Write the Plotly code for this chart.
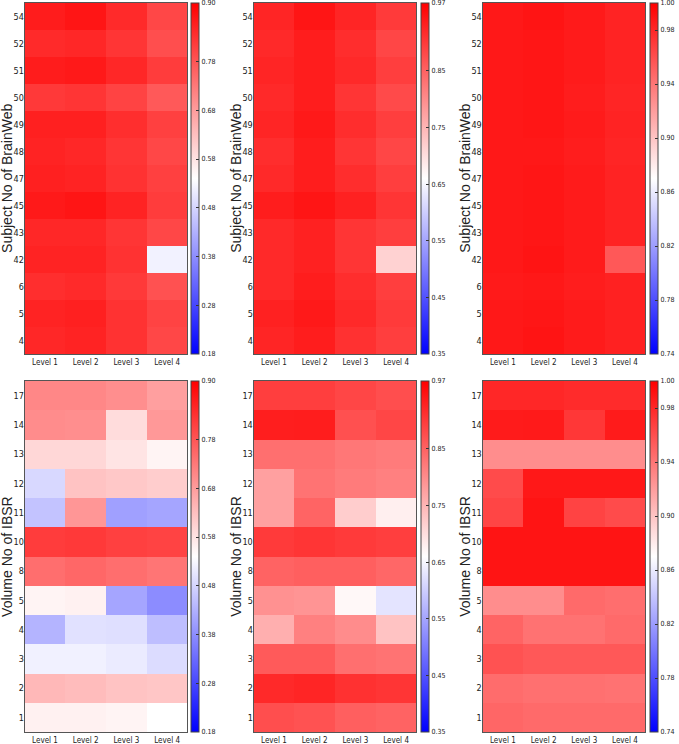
import plotly.graph_objects as go

levels = ["Level 1", "Level 2", "Level 3", "Level 4"]
brainweb_subjects = ["4", "5", "6", "42", "43", "45", "47", "48", "49", "50", "51", "52", "54"]
ibsr_volumes = ["1", "2", "3", "4", "5", "8", "10", "11", "12", "13", "14", "17"]

# BrainWeb, metric A (rows bottom->top follow brainweb_subjects)
bw_a = [
    [0.845, 0.850, 0.830, 0.800],
    [0.850, 0.855, 0.830, 0.805],
    [0.835, 0.840, 0.820, 0.785],
    [0.850, 0.850, 0.830, 0.522],
    [0.845, 0.845, 0.825, 0.800],
    [0.865, 0.870, 0.850, 0.815],
    [0.855, 0.850, 0.830, 0.810],
    [0.850, 0.845, 0.825, 0.800],
    [0.855, 0.855, 0.835, 0.810],
    [0.820, 0.825, 0.805, 0.775],
    [0.860, 0.865, 0.845, 0.815],
    [0.840, 0.845, 0.825, 0.790],
    [0.860, 0.870, 0.840, 0.800],
]
# BrainWeb, metric B
bw_b = [
    [0.925, 0.935, 0.910, 0.895],
    [0.930, 0.940, 0.920, 0.900],
    [0.920, 0.935, 0.915, 0.895],
    [0.920, 0.930, 0.905, 0.715],
    [0.920, 0.930, 0.905, 0.895],
    [0.935, 0.945, 0.930, 0.905],
    [0.920, 0.935, 0.915, 0.895],
    [0.915, 0.935, 0.905, 0.885],
    [0.925, 0.940, 0.915, 0.895],
    [0.920, 0.935, 0.905, 0.880],
    [0.925, 0.935, 0.920, 0.895],
    [0.920, 0.935, 0.915, 0.885],
    [0.925, 0.945, 0.925, 0.900],
]
# BrainWeb, metric C
bw_c = [
    [0.988, 0.990, 0.986, 0.983],
    [0.988, 0.989, 0.986, 0.983],
    [0.987, 0.988, 0.985, 0.983],
    [0.988, 0.990, 0.986, 0.955],
    [0.988, 0.989, 0.986, 0.982],
    [0.988, 0.989, 0.986, 0.982],
    [0.988, 0.989, 0.986, 0.982],
    [0.988, 0.988, 0.985, 0.981],
    [0.988, 0.989, 0.986, 0.982],
    [0.988, 0.989, 0.985, 0.981],
    [0.988, 0.989, 0.986, 0.982],
    [0.988, 0.989, 0.986, 0.982],
    [0.988, 0.990, 0.987, 0.982],
]
# IBSR, metric A (rows bottom->top follow ibsr_volumes)
ib_a = [
    [0.560, 0.560, 0.555, 0.540],
    [0.640, 0.635, 0.625, 0.620],
    [0.520, 0.520, 0.512, 0.490],
    [0.434, 0.498, 0.495, 0.448],
    [0.555, 0.560, 0.413, 0.378],
    [0.745, 0.755, 0.745, 0.735],
    [0.815, 0.820, 0.810, 0.805],
    [0.455, 0.688, 0.406, 0.413],
    [0.485, 0.625, 0.618, 0.610],
    [0.596, 0.596, 0.578, 0.555],
    [0.702, 0.700, 0.590, 0.685],
    [0.710, 0.710, 0.700, 0.675],
]
# IBSR, metric B
ib_b = [
    [0.875, 0.870, 0.855, 0.850],
    [0.920, 0.925, 0.910, 0.905],
    [0.860, 0.860, 0.835, 0.830],
    [0.757, 0.815, 0.800, 0.733],
    [0.794, 0.790, 0.669, 0.627],
    [0.850, 0.855, 0.855, 0.845],
    [0.900, 0.905, 0.900, 0.895],
    [0.775, 0.848, 0.721, 0.679],
    [0.775, 0.830, 0.820, 0.815],
    [0.835, 0.835, 0.825, 0.820],
    [0.934, 0.935, 0.873, 0.885],
    [0.895, 0.895, 0.885, 0.875],
]
# IBSR, metric C
ib_c = [
    [0.948, 0.946, 0.946, 0.946],
    [0.945, 0.943, 0.943, 0.942],
    [0.958, 0.955, 0.955, 0.955],
    [0.949, 0.942, 0.942, 0.946],
    [0.928, 0.928, 0.946, 0.944],
    [0.990, 0.990, 0.990, 0.990],
    [0.990, 0.990, 0.990, 0.990],
    [0.965, 0.990, 0.966, 0.962],
    [0.962, 0.988, 0.988, 0.988],
    [0.928, 0.928, 0.928, 0.928],
    [0.986, 0.987, 0.972, 0.986],
    [0.980, 0.980, 0.978, 0.978],
]

ticks_a = [0.18, 0.28, 0.38, 0.48, 0.58, 0.68, 0.78, 0.90]
ticks_b = [0.35, 0.45, 0.55, 0.65, 0.75, 0.85, 0.97]
ticks_c = [0.74, 0.78, 0.82, 0.86, 0.90, 0.94, 0.98, 1.00]

W, H = 679, 744
colorscale = [[0.0, "rgb(0,0,255)"], [0.5, "rgb(255,255,255)"], [1.0, "rgb(255,0,0)"]]

# (plot left, plot right, colorbar left, y-title centre) in pixels
col_px = [(25, 190, 194, 6.5), (257, 422, 427, 238.5), (489, 654, 659, 470.5)]
row_px = [(3, 354), (381, 732)]

panels = [
    (0, 0, bw_a, brainweb_subjects, ticks_a, "Subject No of BrainWeb"),
    (0, 1, bw_b, brainweb_subjects, ticks_b, "Subject No of BrainWeb"),
    (0, 2, bw_c, brainweb_subjects, ticks_c, "Subject No of BrainWeb"),
    (1, 0, ib_a, ibsr_volumes, ticks_a, "Volume No of IBSR"),
    (1, 1, ib_b, ibsr_volumes, ticks_b, "Volume No of IBSR"),
    (1, 2, ib_c, ibsr_volumes, ticks_c, "Volume No of IBSR"),
]

narrow = "Liberation Sans Narrow, DejaVu Sans Condensed, Arial Narrow, sans-serif"
fig = go.Figure()
layout = {}
annotations = []
for i, (r, c, z, ylab, tv, ytitle) in enumerate(panels):
    n = i + 1
    x0, x1, cbx, tx = col_px[c]
    top, bot = row_px[r]
    xd = [x0 / W, x1 / W]
    yd = [1 - bot / H, 1 - top / H]
    xa = "x" if n == 1 else f"x{n}"
    ya = "y" if n == 1 else f"y{n}"
    fig.add_trace(go.Heatmap(
        z=z, x=levels, y=ylab, xaxis=xa, yaxis=ya,
        colorscale=colorscale, zmin=tv[0], zmax=tv[-1],
        colorbar=dict(
            x=cbx / W, xanchor="left", xpad=0, ypad=0,
            y=(yd[0] + yd[1]) / 2, yanchor="middle",
            len=(bot - top) / H, lenmode="fraction",
            thickness=8, thicknessmode="pixels",
            outlinewidth=1, outlinecolor="#444",
            tickvals=tv, ticktext=[f"{t:.2f}" for t in tv],
            ticks="inside", ticklen=3, tickcolor="#333",
            ticklabeloverflow="allow",
            tickfont=dict(family=narrow, size=7, color="#222"),
        ),
        hoverongaps=False,
    ))
    layout["xaxis" if n == 1 else f"xaxis{n}"] = dict(
        domain=xd, anchor=ya, showline=True, mirror=True, linecolor="#555",
        linewidth=1, ticks="", showgrid=False, zeroline=False,
        tickfont=dict(family=narrow, size=8, color="#222"),
    )
    layout["yaxis" if n == 1 else f"yaxis{n}"] = dict(
        domain=yd, anchor=xa, showline=True, mirror=True, linecolor="#555",
        linewidth=1, ticks="", showgrid=False, zeroline=False,
        ticklabelstandoff=-2,
        tickfont=dict(family=narrow, size=9, color="#222"),
    )
    annotations.append(dict(
        text=ytitle, xref="paper", yref="paper", x=tx / W, y=(yd[0] + yd[1]) / 2,
        xanchor="center", yanchor="middle", textangle=-90, showarrow=False,
        font=dict(family="Liberation Sans, Arial, sans-serif", size=14, color="#222"),
    ))

fig.update_layout(
    width=W, height=H, margin=dict(l=0, r=0, t=0, b=0),
    paper_bgcolor="white", plot_bgcolor="white", annotations=annotations, **layout,
)
fig.write_html("out.html")
